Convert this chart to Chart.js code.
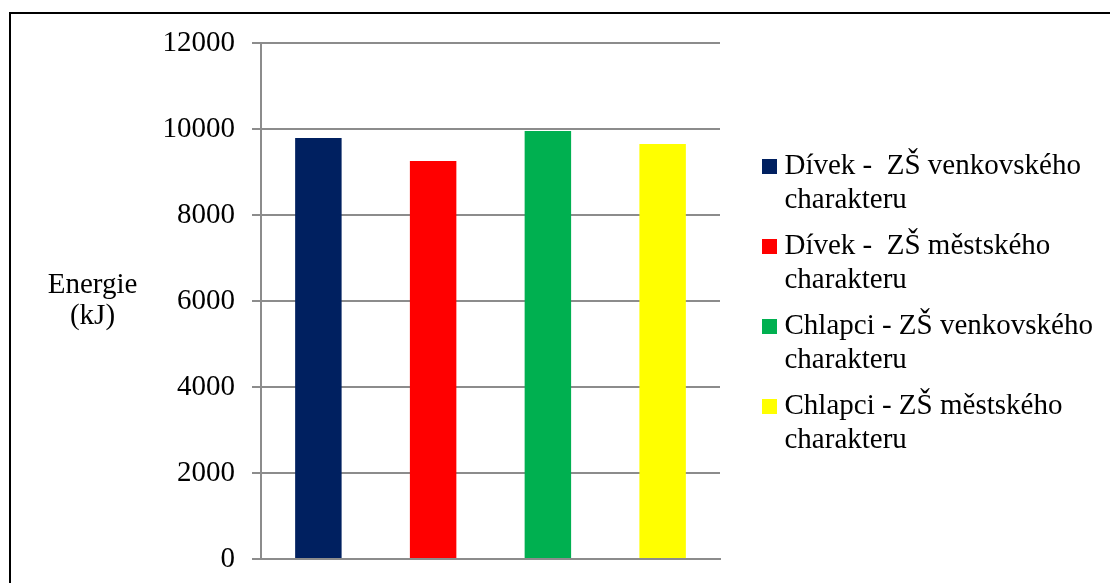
<!DOCTYPE html>
<html>
<head>
<meta charset="utf-8">
<script src="https://cdn.jsdelivr.net/npm/chart.js@4/dist/chart.umd.min.js"></script>
<style>
  html, body { margin: 0; padding: 0; background: #fff; overflow: hidden; }
  #wrap { position: relative; width: 1110px; height: 583px; }
  #frame {
    position: absolute; left: 9px; top: 12px; width: 1200px; height: 700px;
    border-left: 2px solid #000; border-top: 2px solid #000; pointer-events: none;
  }
  canvas { position: absolute; left: 0; top: 0; }
</style>
</head>
<body>
<div id="wrap">
  <canvas id="chart" width="1110" height="583"></canvas>
  <div id="frame"></div>
</div>
<script>
const categories = [''];
const seriesNames = [
  ['Dívek -  ZŠ venkovského', 'charakteru'],
  ['Dívek -  ZŠ městského', 'charakteru'],
  ['Chlapci - ZŠ venkovského', 'charakteru'],
  ['Chlapci - ZŠ městského', 'charakteru'],
];
const seriesValues = [9790, 9255, 9955, 9650];
const seriesColors = ['#002060', '#FF0000', '#00B050', '#FFFF00'];
const yMin = 0;
const yMax = 12000;
const yStep = 2000;
const yTitleLines = ['Energie', '(kJ)'];

const serif = '"Liberation Serif", "Times New Roman", serif';
const gridGray = '#8c8c8c';

// small square swatches for the legend, so the text sits close to the box
function swatch(color) {
  const c = document.createElement('canvas');
  c.width = 15;
  c.height = 15;
  const g = c.getContext('2d');
  g.fillStyle = color;
  g.fillRect(0, 0, 15, 15);
  return c;
}
const swatches = seriesColors.map(swatch);

// horizontal y-axis title on the left, like the original
const yTitle = {
  id: 'yTitle',
  afterDraw(chart) {
    const { ctx, chartArea } = chart;
    const mid = (chartArea.top + chartArea.bottom) / 2;
    ctx.save();
    ctx.font = `29px ${serif}`;
    ctx.fillStyle = '#000';
    ctx.textAlign = 'center';
    ctx.textBaseline = 'middle';
    yTitleLines.forEach((line, i) => ctx.fillText(line, 92.5, mid - 16 + i * 31));
    ctx.restore();
  },
};

// fixed legend width and a gap between plot and legend
const legendSpacing = {
  id: 'legendSpacing',
  beforeInit(chart) {
    const fit = chart.legend.fit;
    chart.legend.fit = function () {
      fit.call(this);
      this.width = 390;
    };
  },
  afterLayout(chart) {
    const legend = chart.legend;
    legend.left += 37;
    legend.right += 37;
    legend.top += 4.5;
    legend.bottom += 4.5;
  },
};

new Chart(document.querySelector('#chart'), {
  type: 'bar',
  data: {
    labels: categories,
    datasets: seriesValues.map((value, i) => ({
      label: seriesNames[i].join(' '),
      data: [value],
      backgroundColor: seriesColors[i],
      borderWidth: 0,
      barPercentage: 0.405,
      categoryPercentage: 1,
    })),
  },
  options: {
    responsive: false,
    animation: false,
    layout: { padding: { top: 43, bottom: 24, left: 0, right: 0 } },
    plugins: {
      tooltip: { enabled: false },
      legend: {
        position: 'right',
        fullSize: false,
        labels: {
          color: '#000',
          font: { family: serif, size: 29, lineHeight: '34px' },
          usePointStyle: true,
          boxWidth: 1,
          boxHeight: 15,
          padding: 12,
          generateLabels: chart =>
            Chart.defaults.plugins.legend.labels.generateLabels(chart).map(item => ({
              ...item,
              text: seriesNames[item.datasetIndex],
              pointStyle: swatches[item.datasetIndex],
              lineWidth: 0,
            })),
        },
      },
    },
    scales: {
      x: {
        ticks: { display: false },
        grid: { display: false, drawTicks: false },
        border: { color: gridGray, width: 2 },
      },
      y: {
        min: yMin,
        max: yMax,
        ticks: {
          stepSize: yStep,
          color: '#000',
          font: { family: serif, size: 29 },
          padding: 17,
          callback: value => String(value),
        },
        grid: { color: gridGray, lineWidth: 2, tickLength: 9 },
        border: { color: gridGray, width: 2 },
        afterFit: scale => {
          scale.width = 261;
          scale.paddingTop = 0;
          scale.paddingBottom = 0;
        },
      },
    },
  },
  plugins: [yTitle, legendSpacing],
});
</script>
</body>
</html>
